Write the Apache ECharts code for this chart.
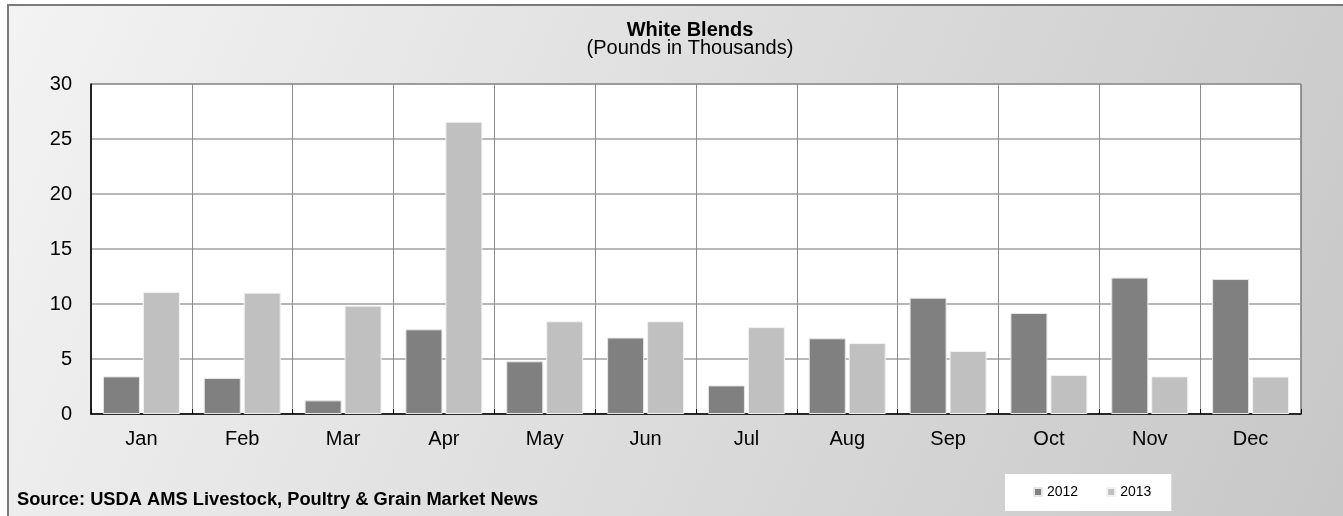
<!DOCTYPE html>
<html>
<head>
<meta charset="utf-8">
<script src="https://cdn.jsdelivr.net/npm/echarts@6/dist/echarts.min.js"></script>
<style>
html,body{margin:0;padding:0;background:#fff;}
#chart{width:1343px;height:516px;}
</style>
</head>
<body>
<div id="chart"></div>
<script>
const categories = ['Jan','Feb','Mar','Apr','May','Jun','Jul','Aug','Sep','Oct','Nov','Dec'];
const values2012 = [3.42, 3.27, 1.24, 7.7, 4.79, 6.95, 2.6, 6.88, 10.57, 9.18, 12.4, 12.27];
const values2013 = [11.09, 11.03, 9.85, 26.57, 8.43, 8.43, 7.9, 6.45, 5.73, 3.55, 3.42, 3.4];
const seriesNames = ['2012', '2013'];
const yTicks = [0, 5, 10, 15, 20, 25, 30];

const FONT = '"Liberation Sans", Arial, sans-serif';
const chart = echarts.init(document.getElementById('chart'), null, {renderer: 'canvas'});
chart.setOption({
  animation: false,
  backgroundColor: '#ffffff',
  textStyle: {fontFamily: FONT},
  graphic: [
    {
      type: 'rect', z: -10, silent: true,
      shape: {x: 8, y: 5, width: 1400, height: 600},
      style: {
        fill: new echarts.graphic.LinearGradient(0, 0, 1, 1, [
          {offset: 0, color: '#f3f3f3'},
          {offset: 1, color: '#c4c4c4'}
        ]),
        stroke: '#7a7a7a', lineWidth: 2
      }
    },
    {
      type: 'text', silent: true,
      style: {
        x: 690, y: 30, text: 'White Blends',
        textAlign: 'center', textVerticalAlign: 'middle',
        font: 'bold 20px ' + FONT, fill: '#000'
      }
    },
    {
      type: 'text', silent: true,
      style: {
        x: 690, y: 48.5, text: '(Pounds in Thousands)',
        textAlign: 'center', textVerticalAlign: 'middle',
        font: '20px ' + FONT, fill: '#000'
      }
    },
    {
      type: 'text', silent: true,
      style: {
        x: 17, y: 500,
        text: 'Source: USDA AMS Livestock, Poultry & Grain Market News',
        textAlign: 'left', textVerticalAlign: 'middle',
        font: 'bold 18.3px ' + FONT, fill: '#000'
      }
    }
  ],
  legend: {
    data: seriesNames,
    left: 1005, top: 474,
    backgroundColor: '#ffffff',
    padding: [11, 20, 12, 28],
    itemGap: 28,
    itemWidth: 8, itemHeight: 8,
    icon: 'rect',
    textStyle: {fontFamily: FONT, fontSize: 14, color: '#000'}
  },
  grid: {
    left: 91, right: 42, top: 84, bottom: 102,
    show: true, backgroundColor: '#ffffff', borderColor: '#303030', borderWidth: 1
  },
  xAxis: {
    type: 'category',
    data: categories,
    axisLine: {lineStyle: {color: '#000', width: 1.5}},
    axisTick: {show: true, inside: true, length: 5, lineStyle: {color: '#000'}},
    splitLine: {show: true, lineStyle: {color: '#8c8c8c', width: 1}},
    axisLabel: {fontFamily: FONT, fontSize: 20, color: '#000', margin: 15}
  },
  yAxis: {
    type: 'value',
    min: yTicks[0], max: yTicks[yTicks.length - 1], interval: 5,
    axisLine: {show: true, lineStyle: {color: '#000', width: 1.5}},
    axisTick: {show: false},
    splitLine: {show: true, lineStyle: {color: '#a0a0a0', width: 1.5}},
    axisLabel: {fontFamily: FONT, fontSize: 20, color: '#000', margin: 19}
  },
  series: [
    {
      name: seriesNames[0], type: 'bar', data: values2012,
      barWidth: 37, barGap: '8%',
      itemStyle: {color: '#808080', borderColor: '#e6e6e6', borderWidth: 1}
    },
    {
      name: seriesNames[1], type: 'bar', data: values2013,
      barWidth: 37, barGap: '8%',
      itemStyle: {color: '#c0c0c0', borderColor: '#f2f2f2', borderWidth: 1}
    }
  ]
});
</script>
</body>
</html>
